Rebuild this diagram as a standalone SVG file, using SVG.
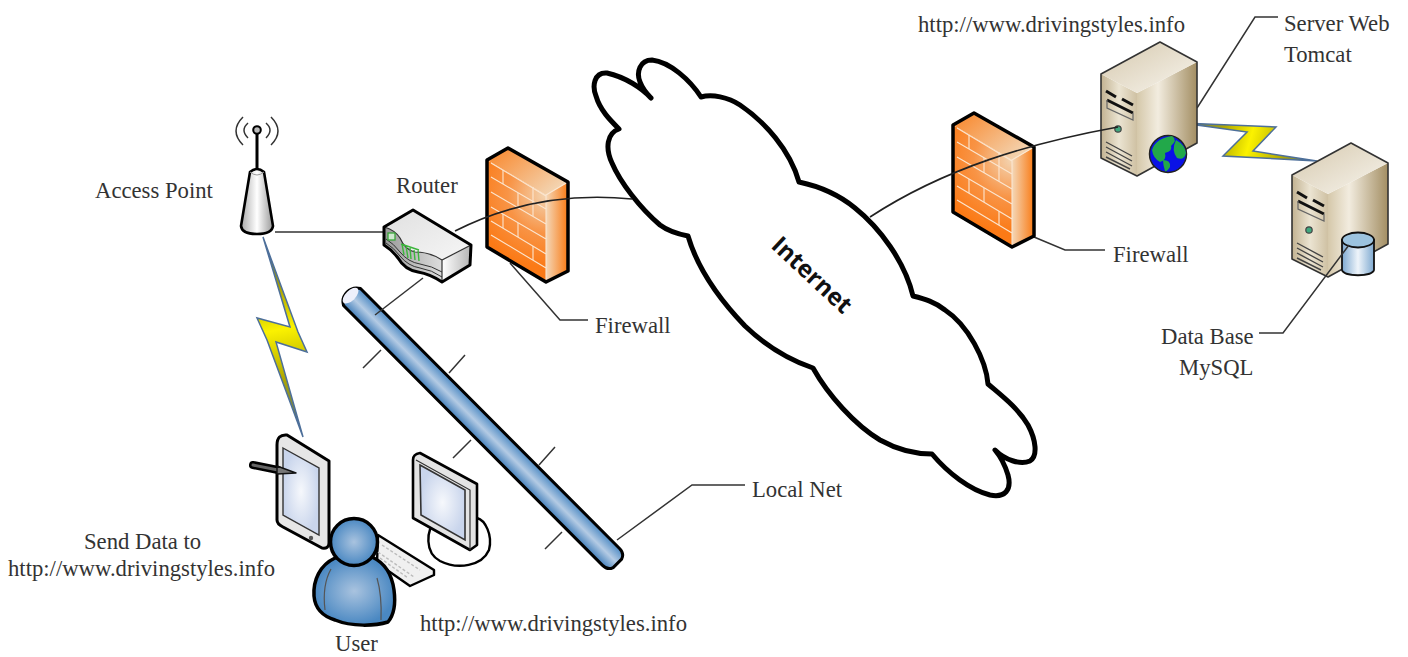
<svg xmlns="http://www.w3.org/2000/svg" xmlns:xlink="http://www.w3.org/1999/xlink" width="1408" height="657" viewBox="0 0 1408 657">
<style>
text{font-family:"Liberation Serif","Times New Roman",serif;font-size:22.7px;fill:#333}
.l{fill:none;stroke:#333;stroke-width:1.5}
.k{stroke:#000;stroke-linejoin:round;stroke-linecap:round}
.br{fill:none;stroke:#fbe6d0;stroke-width:1.1}
.bolt{stroke:#4d6f9a;stroke-width:1.5;stroke-linejoin:miter}
</style>
<defs>
<radialGradient id="fwF" gradientUnits="userSpaceOnUse" cx="546" cy="195" r="85"><stop offset="0" stop-color="#f3d5b3"/><stop offset=".45" stop-color="#f89446"/><stop offset=".85" stop-color="#fb7a16"/></radialGradient>
<linearGradient id="fwS" x1="0" x2="1" y1="0" y2="0"><stop offset="0" stop-color="#f4d8b8"/><stop offset="1" stop-color="#f97a14"/></linearGradient>
<linearGradient id="fwT" x1="0" x2="1" y1="0" y2=".7"><stop offset="0" stop-color="#f98426"/><stop offset="1" stop-color="#f3d5b3"/></linearGradient>
<linearGradient id="pipe" x1="0" x2="0" y1="0" y2="1"><stop offset="0" stop-color="#4f8bc4"/><stop offset=".5" stop-color="#b4cbe4"/><stop offset="1" stop-color="#4480bb"/></linearGradient>
<linearGradient id="bolt1" gradientUnits="userSpaceOnUse" x1="263" y1="237" x2="303" y2="437"><stop offset="0" stop-color="#3d5f8a"/><stop offset=".25" stop-color="#a8a000"/><stop offset=".46" stop-color="#fbf200"/><stop offset=".7" stop-color="#b0a800"/><stop offset="1" stop-color="#3d5f8a"/></linearGradient>
<linearGradient id="bolt2" gradientUnits="userSpaceOnUse" x1="1182" y1="123" x2="1317" y2="161"><stop offset="0" stop-color="#3d5f8a"/><stop offset=".3" stop-color="#b0a800"/><stop offset=".5" stop-color="#fbf200"/><stop offset=".75" stop-color="#b0a800"/><stop offset="1" stop-color="#3d5f8a"/></linearGradient>
<linearGradient id="apB" x1="0" x2="1" y1="0" y2="0"><stop offset="0" stop-color="#aaa"/><stop offset=".5" stop-color="#fff"/><stop offset="1" stop-color="#999"/></linearGradient>
<linearGradient id="rtT" x1="0" x2="1" y1="0" y2="1"><stop offset="0" stop-color="#e0e0e0"/><stop offset="1" stop-color="#f6f6f6"/></linearGradient>
<linearGradient id="rtS" x1="0" x2="1" y1="0" y2="0"><stop offset="0" stop-color="#fff"/><stop offset="1" stop-color="#b4b4b4"/></linearGradient>
<linearGradient id="rtF" x1="0" x2="1" y1="0" y2="0"><stop offset="0" stop-color="#999"/><stop offset="1" stop-color="#ddd"/></linearGradient>
<radialGradient id="scr"><stop offset="0" stop-color="#f6f8fc"/><stop offset="1" stop-color="#c9d5ec"/></radialGradient>
<radialGradient id="usr"><stop offset="0" stop-color="#a9c3df"/><stop offset="1" stop-color="#4a88c2"/></radialGradient>
<linearGradient id="svF" x1="0" x2="1" y1="0" y2="0"><stop offset="0" stop-color="#c2b291"/><stop offset=".5" stop-color="#ebe4d2"/><stop offset="1" stop-color="#cfc1a3"/></linearGradient>
<linearGradient id="svS" x1="0" x2="1" y1="0" y2="0"><stop offset="0" stop-color="#d5c8aa"/><stop offset=".35" stop-color="#f2ecdf"/><stop offset="1" stop-color="#a38e63"/></linearGradient>
<linearGradient id="svT" x1="0" x2="1" y1="0" y2="1"><stop offset="0" stop-color="#d5c8ad"/><stop offset="1" stop-color="#f8f5ee"/></linearGradient>
<linearGradient id="db" x1="0" x2="1" y1="0" y2="0"><stop offset="0" stop-color="#7ea9d0"/><stop offset=".5" stop-color="#eef4fa"/><stop offset="1" stop-color="#7ea9d0"/></linearGradient>
<g id="fw">
<path d="M487 160L546 195V282L487 247Z" fill="url(#fwF)"/>
<path d="M546 195L568 182V271L546 282Z" fill="url(#fwS)"/>
<path d="M487 160L508 148L568 182L546 195Z" fill="url(#fwT)"/>
<path class="br" d="M491 163L546 196M491 177L546 209M491 192L546 224M491 207L546 239M491 221L546 254M491 235L546 268M546 195V282M546 195L568 182"/>
<path class="br" d="M503 170V184M518 193V208M533 187V216M503 214V228M518 223V237M533 246V260"/>
<path class="k" fill="none" stroke-width="3.5" d="M487 160L508 148L568 182V271L546 282L487 247Z"/>
</g>
<g id="srv">
<path d="M1101 74L1137 93V176L1101 158Z" fill="url(#svF)"/>
<path d="M1137 93L1197 62V143L1137 176Z" fill="url(#svS)"/>
<path d="M1101 74L1160 42L1197 62L1137 93Z" fill="url(#svT)"/>
<path fill="none" stroke="#333" stroke-width="1.6" stroke-linejoin="round" d="M1101 74L1160 42L1197 62V143L1137 176L1101 158Z"/>
<path fill="none" stroke="#111" stroke-width="3" d="M1106 91L1116 97M1122 99L1133 105M1107 100L1133 113"/>
<path fill="none" stroke="#666" stroke-width="1.2" d="M1107 100V108L1133 120V113"/>
<circle cx="1118" cy="129" r="3.2" fill="#3fa77e" stroke="#444" stroke-width="1.2"/>
<path fill="none" stroke="#444" stroke-width="1.4" d="M1106 142L1132 156M1106 147L1132 161M1106 152L1132 166M1106 157L1130 169"/>
</g>
</defs>

<g id="connectors">
<path class="l" d="M275 232H384"/>
<path class="l" d="M363 368L381 350M449 373L465 355M453 458L471 440M539 465L555 447M545 549L562 532"/>
<path class="l" d="M510 263L560 320H588"/>
<path class="l" d="M617 540L692 485H745"/>
<path class="l" d="M1034 237L1065 250H1105"/>
<path class="l" d="M1197 108L1255 17H1278"/>
</g>

<g id="cloud">
<path fill="#fff" stroke="#000" stroke-width="5" stroke-linejoin="round" d="M651 98C642 88 625 77 607 73C594 72 592 86 596 96C600 110 610 120 619 129C607 133 605 148 612 163C620 182 640 208 660 225C668 231 678 234 688 236C698 270 720 300 745 326C768 348 790 360 813 368C828 395 855 425 880 440C898 450 915 454 932 454C948 473 970 490 990 495C1005 498 1012 490 1008 475C1005 465 1000 456 995 450C1005 460 1020 465 1030 461C1038 456 1036 440 1028 425C1018 408 1002 396 988 384C986 360 968 325 945 310C935 302 925 299 913 296C905 262 880 228 855 208C838 194 818 186 799 182C790 150 765 122 740 105C728 97 712 94 701 97C690 80 670 62 652 60C640 60 636 72 640 82C643 90 647 94 651 98Z"/>
<text x="0" y="0" transform="translate(770 247) rotate(43)" style="font-family:'Open Sans','Liberation Sans',sans-serif;font-size:24px;font-weight:700;fill:#111">Internet</text>
</g>

<g id="firewall-left"><use xlink:href="#fw" href="#fw"/></g>
<g id="firewall-right"><use xlink:href="#fw" href="#fw" transform="translate(466 -35)"/></g>

<g id="access-point">
<path fill="none" stroke="#333" stroke-width="1.5" d="M248 123Q240 130 248 138M266 123Q274 130 266 138M243 117Q229 131 243 145M271 117Q285 131 271 145"/>
<path class="k" fill="none" stroke-width="3" d="M257 134V168"/>
<circle cx="257" cy="130" r="3.8" fill="#bbb" stroke="#000" stroke-width="2"/>
<path class="k" fill="url(#apB)" stroke-width="2.6" d="M250 172Q257 166 264 172L273 226Q272 234 257 234Q242 234 241 226Z"/>
<path fill="none" stroke="#999" stroke-width="1" d="M250 172Q257 178 264 172"/>
</g>

<g id="router">
<path d="M413 210L471 245L442 260Q430 252 415 252Q405 250 400 238Q395 230 384 227Z" fill="url(#rtT)"/>
<path d="M442 260L471 245V265L442 282Z" fill="url(#rtS)"/>
<path d="M384 227Q395 230 400 238Q405 250 415 252Q430 252 442 260V282Q430 274 418 272Q405 270 398 258Q392 250 384 245Z" fill="url(#rtF)"/>
<path fill="none" stroke="#333" stroke-width="1" d="M386 239Q394 244 400 252Q408 262 420 264Q432 266 442 272M386 243Q394 248 400 256Q408 266 420 268Q432 270 442 277"/>
<path fill="none" stroke="#333" stroke-width="1.2" d="M384 227Q395 230 400 238Q405 250 415 252Q430 252 442 260L471 245M442 260V282"/>
<rect x="388" y="233" width="7" height="7" fill="#cfe8cf" stroke="#3aa63a" stroke-width="1.3"/>
<path fill="none" stroke="#3cb53c" stroke-width="1.4" d="M402 244L404 255M406 246L408 258M410 248L411 259M414 250L415 260M418 250L419 261M401 244L419 250"/>
<path class="k" fill="none" stroke-width="3" d="M413 210L384 227V245Q392 250 398 258Q405 270 418 272Q430 274 442 282L470 265L471 245Z"/>
</g>

<g id="local-net">
<g transform="translate(352 297) rotate(45.1)">
<path d="M0 -12H367Q374 -12 376 -6V6Q374 12 367 12H0Q-7 8 -7 0Q-7 -8 0 -12Z" fill="url(#pipe)" stroke="#000" stroke-width="3" stroke-linejoin="round"/>
<ellipse cx="-2" cy="0" rx="5" ry="10" fill="#eef0fb"/>
</g>
<path class="l" d="M423 278L375 315"/>
</g>

<g id="bolts">
<path class="bolt" fill="url(#bolt1)" d="M263 237L298 332L307 352L276 342L303 437L267 340L257 318L290 327Z"/>
<path class="bolt" fill="url(#bolt2)" d="M1182 123L1276 127L1253 151L1317 161L1223 156L1247 132Z"/>
</g>

<g id="tablet">
<path class="k" fill="#e6e6e6" stroke-width="3" d="M277 445Q277 434 287 435L329 461V543Q329 549 322 548L283 527Q277 524 277 520Z"/>
<path d="M283 448L319 468V535L283 515Z" fill="url(#scr)" stroke="#333" stroke-width="1.4"/>
<circle cx="311" cy="538" r="2.2" fill="#555"/>
<path d="M253 465L278 470" fill="none" stroke="#000" stroke-width="8" stroke-linecap="round"/>
<path d="M253 465L278 470" fill="none" stroke="#666" stroke-width="3" stroke-linecap="round"/>
<path d="M277 466L296 473L277 474Z" fill="#777" stroke="#111" stroke-width="1.4" stroke-linejoin="round"/>
</g>

<g id="workstation">
<path class="k" fill="#fff" stroke-width="2.4" d="M437 520C425 530 425 553 440 561C458 570 482 566 489 550C493 535 485 520 477 518Z"/>
<path fill="#c8c8c8" d="M470 480L477 484V545L470 550Z"/>
<path class="k" fill="#e4e4e4" stroke-width="2.6" d="M413 460Q413 454 420 453L477 484V545L470 550L413 518Z"/>
<path fill="none" stroke="#333" stroke-width="1.2" d="M416 460L470 490V550"/>
<path d="M420 465L465 490V540L421 515Z" fill="url(#scr)" stroke="#333" stroke-width="1.6"/>
</g>
<g id="keyboard">
<path class="k" fill="#f0f0f0" stroke-width="2.4" d="M378 535L434 570V575L410 586L377 563Z"/>
<path fill="none" stroke="#bbb" stroke-width="1.4" stroke-dasharray="3 2" d="M382 545L420 570M378 552L414 577M380 558L408 578"/>
</g>
<g id="user">
<path class="k" fill="url(#usr)" stroke-width="3.5" d="M335 558C320 565 313 580 314 596C315 608 322 616 335 620C352 627 375 626 388 622C393 616 396 605 394 590C392 575 385 563 372 557Z"/>
<path fill="none" stroke="#555" stroke-width="1.2" d="M331 569Q322 585 325 610M377 578Q382 595 381 620"/>
<circle cx="354" cy="542" r="23.5" fill="url(#usr)" stroke="#000" stroke-width="3.5"/>
</g>

<g id="server-web">
<use xlink:href="#srv" href="#srv"/>
<circle cx="1168" cy="154" r="18.5" fill="#0a12e6" stroke="#222" stroke-width="1.5"/>
<path fill="#22a84a" d="M1152 150Q1156 138 1172 136Q1178 140 1171 146Q1173 151 1165 153Q1167 160 1160 162Q1153 158 1152 150ZM1176 140Q1185 145 1186 153Q1184 161 1177 158Q1171 150 1176 140ZM1163 160Q1171 160 1170 167Q1167 172 1165 171Q1163 165 1163 160Z"/>
</g>
<g id="server-db">
<use xlink:href="#srv" href="#srv" transform="translate(191 101)"/>
<path fill="url(#db)" stroke="#111" stroke-width="1.8" d="M1342 240V270C1344 277 1372 277 1374 270V240Z"/>
<ellipse cx="1358" cy="240" rx="16" ry="7.5" fill="#9cc3df" stroke="#111" stroke-width="1.8"/>
<path class="l" d="M1349 245L1283 333H1259"/>
</g>

<g id="wan-lines">
<path fill="none" stroke="#222" stroke-width="1.6" d="M455 231C510 203 570 193 632 199"/>
<path fill="none" stroke="#222" stroke-width="1.6" d="M870 217C945 168 1030 143 1118 127"/>
</g>

<g id="labels">
<text x="918" y="32">http://www.drivingstyles.info</text>
<text x="1284" y="31">Server Web</text>
<text x="1284" y="62">Tomcat</text>
<text x="95" y="198">Access Point</text>
<text x="396" y="193">Router</text>
<text x="595" y="333">Firewall</text>
<text x="1113" y="262">Firewall</text>
<text x="1161" y="344">Data Base</text>
<text x="1179" y="375">MySQL</text>
<text x="752" y="497">Local Net</text>
<text x="84" y="549">Send Data to</text>
<text x="8" y="576">http://www.drivingstyles.info</text>
<text x="420" y="631">http://www.drivingstyles.info</text>
<text x="335" y="651">User</text>
</g>
</svg>
